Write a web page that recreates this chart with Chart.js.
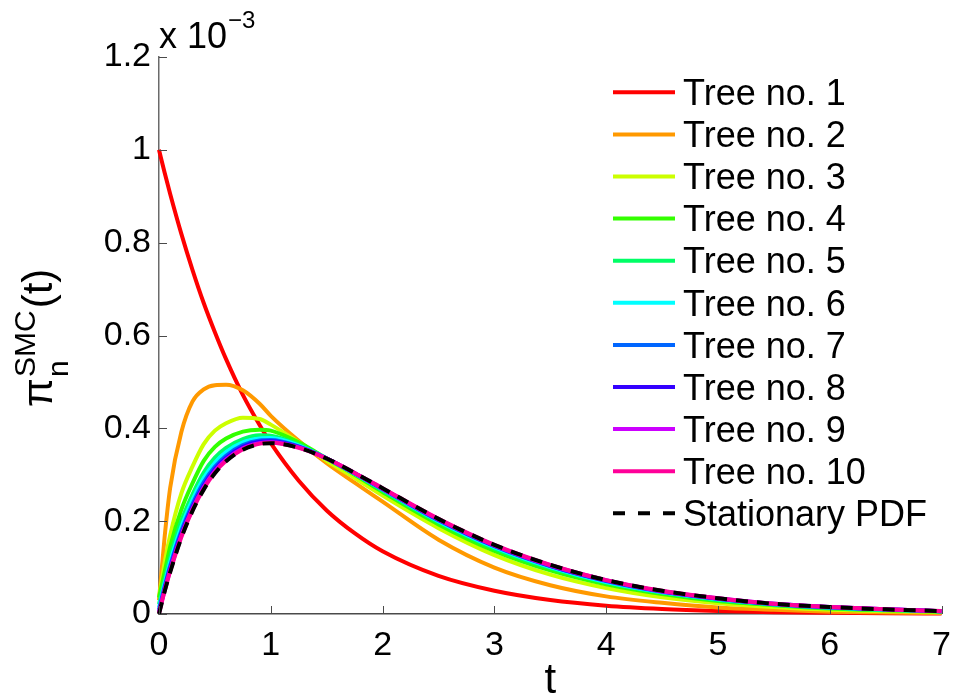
<!DOCTYPE html>
<html>
<head>
<meta charset="utf-8">
<script src="https://cdn.jsdelivr.net/npm/chart.js@4.4.1/dist/chart.umd.min.js"></script>
<style>
    body { margin: 0; background: #fff; }
    canvas { display: block; }
</style>
</head>
<body>
<canvas id="pdfChart" width="962" height="698"></canvas>
<script>
// Tree PDFs (values in units of 1e-3)

const tValues = [0, 0.05, 0.1, 0.2, 0.3, 0.4, 0.5, 0.6, 0.75, 0.9, 1, 1.25, 1.5, 1.75, 2, 2.5, 3, 3.5, 4, 4.5, 5, 5.5, 6, 6.5, 7];

const tree1 = [1.0, 0.951, 0.905, 0.819, 0.741, 0.670, 0.607, 0.549, 0.472, 0.407, 0.368, 0.287, 0.223, 0.174, 0.135, 0.082, 0.050, 0.030, 0.018, 0.011, 0.0067, 0.004, 0.0025, 0.0015, 0.0009];
const tree2 = [0.03, 0.165, 0.272, 0.392, 0.458, 0.484, 0.493, 0.494, 0.482, 0.453, 0.427, 0.373, 0.325, 0.283, 0.242, 0.160, 0.100, 0.062, 0.038, 0.024, 0.014, 0.009, 0.005, 0.003, 0.002];
const tree3 = [0.035, 0.11, 0.17, 0.26, 0.318, 0.366, 0.395, 0.411, 0.423, 0.420, 0.408, 0.370, 0.330, 0.293, 0.255, 0.185, 0.127, 0.085, 0.056, 0.036, 0.023, 0.015, 0.009, 0.006, 0.004];
const tree4 = [0.035, 0.09, 0.145, 0.225, 0.282, 0.330, 0.360, 0.378, 0.393, 0.397, 0.395, 0.370, 0.335, 0.300, 0.263, 0.193, 0.136, 0.094, 0.064, 0.043, 0.028, 0.019, 0.012, 0.008, 0.005];
const tree5 = [0.021, 0.073, 0.123, 0.201, 0.258, 0.305, 0.337, 0.358, 0.377, 0.385, 0.384, 0.365, 0.335, 0.302, 0.266, 0.198, 0.141, 0.099, 0.068, 0.046, 0.030, 0.020, 0.013, 0.009, 0.006];
const tree6 = [0.014, 0.065, 0.112, 0.188, 0.246, 0.293, 0.326, 0.349, 0.370, 0.378, 0.379, 0.363, 0.335, 0.302, 0.268, 0.200, 0.144, 0.101, 0.069, 0.047, 0.032, 0.021, 0.014, 0.009, 0.006];
const tree7 = [0.009, 0.059, 0.104, 0.179, 0.237, 0.284, 0.317, 0.341, 0.364, 0.374, 0.375, 0.361, 0.335, 0.303, 0.269, 0.202, 0.146, 0.103, 0.071, 0.048, 0.033, 0.021, 0.014, 0.010, 0.006];
const tree8 = [0.005, 0.054, 0.098, 0.173, 0.231, 0.277, 0.312, 0.336, 0.360, 0.371, 0.372, 0.360, 0.335, 0.303, 0.270, 0.203, 0.147, 0.104, 0.072, 0.049, 0.033, 0.022, 0.015, 0.010, 0.006];
const tree9 = [0.003, 0.051, 0.094, 0.169, 0.227, 0.273, 0.308, 0.333, 0.357, 0.368, 0.370, 0.359, 0.335, 0.304, 0.270, 0.204, 0.148, 0.105, 0.073, 0.049, 0.034, 0.022, 0.015, 0.010, 0.006];
const tree10 = [0.001, 0.049, 0.092, 0.166, 0.224, 0.270, 0.305, 0.330, 0.355, 0.367, 0.369, 0.358, 0.335, 0.304, 0.271, 0.205, 0.149, 0.106, 0.073, 0.050, 0.034, 0.022, 0.015, 0.010, 0.0064];
const stationary = [0, 0.048, 0.090, 0.164, 0.222, 0.268, 0.303, 0.329, 0.354, 0.366, 0.368, 0.358, 0.335, 0.304, 0.271, 0.205, 0.149, 0.106, 0.073, 0.050, 0.034, 0.022, 0.015, 0.010, 0.0064];

const seriesNames = ['Tree no. 1', 'Tree no. 2', 'Tree no. 3', 'Tree no. 4', 'Tree no. 5',
    'Tree no. 6', 'Tree no. 7', 'Tree no. 8', 'Tree no. 9', 'Tree no. 10', 'Stationary PDF'];
const seriesValues = [tree1, tree2, tree3, tree4, tree5, tree6, tree7, tree8, tree9, tree10, stationary];
const seriesColors = ['#ff0000', '#ff9900', '#ccff00', '#33ff00', '#00ff66',
    '#00ffff', '#0066ff', '#3300ff', '#cc00ff', '#ff0099', '#000000'];

const xTicks = [0, 1, 2, 3, 4, 5, 6, 7];
const yTicks = [0, 0.2, 0.4, 0.6, 0.8, 1, 1.2];

const FONT = "'Liberation Sans', Arial, sans-serif";
const AXIS_COLOR = '#4a4a4a';

const datasets = seriesValues.map((vals, i) => ({
    label: seriesNames[i],
    data: tValues.map((t, k) => ({ x: t, y: vals[k] })),
    borderColor: seriesColors[i],
    borderWidth: 4,
    borderDash: i === 10 ? [12, 9] : [],
    pointRadius: 0,
    fill: false,
    cubicInterpolationMode: 'monotone',
    clip: 6,
    order: 10 - i
}));

// inward ticks, y label, exponent and legend
const decorations = {
    id: 'decorations',
    afterDraw(chart) {
        const { ctx, chartArea, scales } = chart;
        const x = scales.x, y = scales.y;
        ctx.save();

        ctx.strokeStyle = AXIS_COLOR;
        ctx.lineWidth = 1;
        xTicks.forEach(v => {
            const px = Math.round(x.getPixelForValue(v)) + 0.5;
            ctx.beginPath();
            ctx.moveTo(px, chartArea.bottom);
            ctx.lineTo(px, chartArea.bottom - 8);
            ctx.stroke();
        });
        yTicks.forEach(v => {
            const py = Math.round(y.getPixelForValue(v)) + 0.5;
            ctx.beginPath();
            ctx.moveTo(chartArea.left, py);
            ctx.lineTo(chartArea.left + 8, py);
            ctx.stroke();
        });

        // exponent
        ctx.fillStyle = '#000';
        ctx.textBaseline = 'alphabetic';
        ctx.textAlign = 'left';
        ctx.font = '36px ' + FONT;
        ctx.fillText('x 10', 159, 48);
        const wExp = ctx.measureText('x 10').width;
        ctx.font = '24px ' + FONT;
        ctx.fillText('\u22123', 159 + wExp + 1, 28);

        // y axis title
        ctx.save();
        ctx.translate(52, 407);
        ctx.rotate(-Math.PI / 2);
        ctx.font = '42px ' + FONT;
        ctx.fillText('\u03c0', 0, 0);
        const wPi = ctx.measureText('\u03c0').width;
        ctx.font = '30px ' + FONT;
        ctx.fillText('SMC', wPi + 1, -17);
        ctx.fillText('n', wPi + 1, 16);
        const wSup = ctx.measureText('SMC').width;
        ctx.font = '42px ' + FONT;
        ctx.fillText('(t)', wPi + wSup + 3, 0);
        ctx.restore();

        // x axis title
        ctx.font = '42px ' + FONT;
        ctx.textAlign = 'center';
        ctx.fillText('t', (chartArea.left + chartArea.right) / 2, 693);

        // legend
        ctx.textAlign = 'left';
        ctx.font = '36px ' + FONT;
        seriesNames.forEach((name, i) => {
            const ry = 92.3 + 42.1 * i;
            ctx.strokeStyle = seriesColors[i];
            ctx.lineWidth = 4;
            ctx.setLineDash(i === 10 ? [12, 13] : []);
            ctx.beginPath();
            ctx.moveTo(613, ry);
            ctx.lineTo(675, ry);
            ctx.stroke();
            ctx.setLineDash([]);
            ctx.fillStyle = '#000';
            ctx.fillText(name, 683, ry + 12.7);
        });
        ctx.restore();
    }
};

new Chart(document.getElementById('pdfChart').getContext('2d'), {
    type: 'line',
    data: { datasets: datasets },
    options: {
        responsive: false,
        animation: false,
        layout: { padding: { left: 0, top: 57, right: 13, bottom: 0 } },
        scales: {
            x: {
                type: 'linear',
                min: 0,
                max: 7,
                afterBuildTicks: scale => { scale.ticks = xTicks.map(v => ({ value: v })); },
                afterFit: scale => { scale.height = 84; },
                grid: { display: false, drawTicks: false },
                border: { display: true, color: AXIS_COLOR, width: 1.5 },
                ticks: { color: '#000', padding: 11, font: { family: FONT, size: 34 }, maxRotation: 0 }
            },
            y: {
                type: 'linear',
                min: 0,
                max: 1.2,
                afterBuildTicks: scale => { scale.ticks = yTicks.map(v => ({ value: v })); },
                afterFit: scale => { scale.width = 159; },
                grid: { display: false, drawTicks: false },
                border: { display: true, color: '#6a6a6a', width: 1.5 },
                ticks: {
                    color: '#000',
                    padding: 8,
                    font: { family: FONT, size: 34 },
                    callback: v => String(Number(v.toFixed(1)))
                }
            }
        },
        plugins: {
            legend: { display: false },
            tooltip: { enabled: false }
        }
    },
    plugins: [decorations]
});
</script>
</body>
</html>
